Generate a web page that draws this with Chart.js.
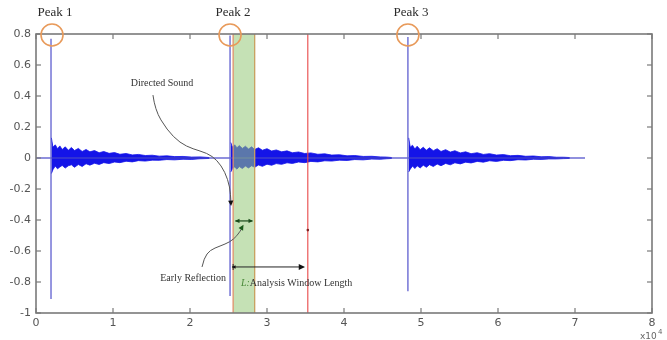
<!DOCTYPE html>
<html><head><meta charset="utf-8">
<script src="https://cdn.jsdelivr.net/npm/chart.js@4/dist/chart.umd.min.js"></script>
<style>html,body{margin:0;padding:0;background:#fff}#wrap{width:667px;height:340px}</style>
</head><body><div id="wrap"><canvas id="c" width="667" height="340"></canvas></div>
<script>
const xTicks = [0,1,2,3,4,5,6,7,8];
const yTicks = [-1,-0.8,-0.6,-0.4,-0.2,0,0.2,0.4,0.6,0.8];
const peakNames = ["Peak 1","Peak 2","Peak 3"];
const peakX = [0.195, 2.52, 4.83];
const peakTop = [0.77, 0.79, 0.78];
const peakBottom = [-0.91, -0.89, -0.86];
const traceEnd = 7.13;

const noise1X  = [0.20,0.22,0.25,0.28,0.31,0.34,0.38,0.42,0.46,0.50,0.55,0.60,0.65,0.70,0.76,0.82,0.88,0.95,1.02,1.09,1.17,1.25,1.33,1.42,1.51,1.60,1.70,1.80,1.91,2.02,2.13,2.25];
const noise1Up = [0.13,0.07,0.085,0.06,0.078,0.055,0.072,0.05,0.068,0.048,0.062,0.042,0.055,0.04,0.048,0.034,0.042,0.03,0.035,0.024,0.029,0.02,0.023,0.016,0.018,0.012,0.014,0.009,0.01,0.006,0.007,0.003];
const noise1Lo = [-0.10,-0.075,-0.052,-0.07,-0.058,-0.048,-0.065,-0.05,-0.044,-0.06,-0.042,-0.055,-0.037,-0.046,-0.034,-0.042,-0.03,-0.036,-0.026,-0.03,-0.021,-0.025,-0.017,-0.02,-0.014,-0.015,-0.01,-0.012,-0.008,-0.009,-0.005,-0.003];

const noise2X  = [2.53,2.55,2.58,2.61,2.64,2.68,2.72,2.76,2.80,2.84,2.89,2.94,3.00,3.06,3.12,3.19,3.26,3.33,3.41,3.49,3.57,3.66,3.75,3.84,3.94,4.04,4.14,4.25,4.36,4.47,4.55,4.62];
const noise2Up = [0.10,0.07,0.085,0.066,0.08,0.062,0.076,0.058,0.072,0.055,0.066,0.05,0.06,0.045,0.052,0.04,0.046,0.034,0.039,0.029,0.033,0.024,0.027,0.019,0.021,0.014,0.016,0.01,0.011,0.007,0.006,0.003];
const noise2Lo = [-0.09,-0.07,-0.058,-0.072,-0.055,-0.068,-0.052,-0.064,-0.05,-0.06,-0.045,-0.054,-0.04,-0.047,-0.036,-0.041,-0.031,-0.035,-0.026,-0.03,-0.022,-0.025,-0.018,-0.02,-0.014,-0.016,-0.01,-0.012,-0.007,-0.008,-0.005,-0.003];

const noise3X  = [4.84,4.86,4.89,4.92,4.95,4.99,5.03,5.07,5.11,5.16,5.21,5.26,5.32,5.38,5.44,5.51,5.58,5.65,5.73,5.81,5.89,5.98,6.07,6.16,6.26,6.36,6.46,6.56,6.66,6.76,6.85,6.93];
const noise3Up = [0.13,0.07,0.082,0.058,0.076,0.054,0.07,0.05,0.066,0.047,0.06,0.042,0.054,0.038,0.047,0.033,0.04,0.028,0.034,0.023,0.028,0.019,0.022,0.015,0.017,0.011,0.013,0.008,0.009,0.005,0.005,0.003];
const noise3Lo = [-0.09,-0.072,-0.052,-0.068,-0.05,-0.064,-0.046,-0.06,-0.043,-0.055,-0.039,-0.05,-0.035,-0.044,-0.031,-0.038,-0.027,-0.032,-0.022,-0.027,-0.018,-0.022,-0.015,-0.017,-0.011,-0.013,-0.008,-0.009,-0.006,-0.006,-0.004,-0.003];

const earlyStart = 2.56, earlyEnd = 2.84, windowEnd = 3.53;

// annotation geometry (data coordinates)
const directCurveX = [1.519,1.545,1.701,1.870,2.039,2.221,2.351,2.455,2.519,2.532];
const directCurveY = [0.406,0.310,0.181,0.097,0.058,0.032,-0.013,-0.090,-0.187,-0.285];
const earlyCurveX = [2.156,2.182,2.260,2.390,2.519,2.610,2.680];
const earlyCurveY = [-0.703,-0.645,-0.594,-0.568,-0.542,-0.503,-0.450];

// build trace
const trace = [{x:0,y:0}];
peakX.forEach((px,i)=>{ trace.push({x:px,y:0},{x:px,y:peakTop[i]},{x:px,y:peakBottom[i]},{x:px,y:0}); });
trace.push({x:traceEnd,y:0});
const pts = (xs,ys)=>xs.map((x,i)=>({x:x,y:ys[i]}));

const NOISE = '#1414e8';
const noiseSet = (xs,ys,fill)=>({data:pts(xs,ys),borderColor:NOISE,backgroundColor:NOISE,borderWidth:0.8,pointRadius:0,fill:fill,tension:0});

const datasets = [
  {data:trace,borderColor:'rgba(70,70,200,0.8)',borderWidth:1.4,pointRadius:0,fill:false,tension:0},
  noiseSet(noise1X,noise1Up,'+1'), noiseSet(noise1X,noise1Lo,false),
  noiseSet(noise2X,noise2Up,'+1'), noiseSet(noise2X,noise2Lo,false),
  noiseSet(noise3X,noise3Up,'+1'), noiseSet(noise3X,noise3Lo,false)
];

function arrowHead(ctx,x1,y1,x2,y2,size){
  const a=Math.atan2(y2-y1,x2-x1);
  ctx.beginPath();
  ctx.moveTo(x2,y2);
  ctx.lineTo(x2-size*Math.cos(a-0.45),y2-size*Math.sin(a-0.45));
  ctx.lineTo(x2-size*Math.cos(a+0.45),y2-size*Math.sin(a+0.45));
  ctx.closePath(); ctx.fill();
}
function smoothPath(ctx,p){
  ctx.beginPath(); ctx.moveTo(p[0][0],p[0][1]);
  for(let i=1;i<p.length-1;i++){
    const mx=(p[i][0]+p[i+1][0])/2,my=(p[i][1]+p[i+1][1])/2;
    ctx.quadraticCurveTo(p[i][0],p[i][1],mx,my);
  }
  ctx.lineTo(p[p.length-1][0],p[p.length-1][1]); ctx.stroke();
}

const overlay = {
  id:'overlay',
  afterDatasetsDraw(chart){
    const {ctx,chartArea:a,scales:{x,y}}=chart;
    const X=v=>x.getPixelForValue(v), Y=v=>y.getPixelForValue(v);
    ctx.save();
    // green band
    ctx.fillStyle='rgba(150,200,120,0.55)';
    ctx.fillRect(X(earlyStart),a.top,X(earlyEnd)-X(earlyStart),a.bottom-a.top);
    ctx.lineWidth=1.3;
    ctx.strokeStyle='#e0906a';
    ctx.beginPath(); ctx.moveTo(X(earlyStart),a.top); ctx.lineTo(X(earlyStart),a.bottom); ctx.stroke();
    ctx.strokeStyle='#c8a060';
    ctx.beginPath(); ctx.moveTo(X(earlyEnd),a.top); ctx.lineTo(X(earlyEnd),a.bottom); ctx.stroke();
    // red window line
    ctx.strokeStyle='#e84848'; ctx.lineWidth=1.1;
    ctx.beginPath(); ctx.moveTo(X(windowEnd),a.top); ctx.lineTo(X(windowEnd),a.bottom); ctx.stroke();
    ctx.fillStyle='#802020';
    ctx.beginPath(); ctx.arc(X(windowEnd),Y(-0.465),1.3,0,Math.PI*2); ctx.fill();

    // frame
    ctx.strokeStyle='#7a7a7a'; ctx.lineWidth=1.6;
    ctx.strokeRect(a.left,a.top,a.right-a.left,a.bottom-a.top);
    ctx.lineWidth=1.2;
    xTicks.forEach(v=>{const px=X(v);
      ctx.beginPath(); ctx.moveTo(px,a.bottom); ctx.lineTo(px,a.bottom-5); ctx.stroke();
      ctx.beginPath(); ctx.moveTo(px,a.top); ctx.lineTo(px,a.top+5); ctx.stroke();});
    yTicks.forEach(v=>{const py=Y(v);
      ctx.beginPath(); ctx.moveTo(a.left,py); ctx.lineTo(a.left+5,py); ctx.stroke();
      ctx.beginPath(); ctx.moveTo(a.right,py); ctx.lineTo(a.right-5,py); ctx.stroke();});

    // peak circles and labels
    ctx.strokeStyle='#e89a5a'; ctx.lineWidth=1.6;
    ctx.fillStyle='#2a2a2a'; ctx.font='13px "Liberation Serif"'; ctx.textAlign='center'; ctx.textBaseline='middle';
    peakX.forEach((px,i)=>{
      const cx=X(px)+(i===0?1:0), cy=Y(0.8)+1;
      ctx.beginPath(); ctx.arc(cx,cy,11,0,Math.PI*2); ctx.stroke();
      ctx.fillText(peakNames[i],cx+3,cy-22);
    });

    // Directed sound
    ctx.strokeStyle='#555'; ctx.fillStyle='#111'; ctx.lineWidth=1;
    const dp=directCurveX.map((v,i)=>[X(v),Y(directCurveY[i])]);
    smoothPath(ctx,dp);
    arrowHead(ctx,dp[dp.length-2][0],dp[dp.length-2][1],X(2.533),Y(-0.31),6);
    ctx.fillStyle='#333'; ctx.font='10px "Liberation Serif"';
    ctx.fillText('Directed Sound',X(1.636),Y(0.484));

    // Early reflection
    const ep=earlyCurveX.map((v,i)=>[X(v),Y(earlyCurveY[i])]);
    ctx.strokeStyle='#555';
    smoothPath(ctx,ep);
    ctx.fillStyle='#1a5a1a';
    arrowHead(ctx,ep[ep.length-2][0],ep[ep.length-2][1],X(2.695),Y(-0.43),6);
    ctx.fillStyle='#333'; ctx.textAlign='right';
    ctx.fillText('Early Reflection',X(2.468),Y(-0.774));

    // double arrow in green band
    ctx.strokeStyle='#1a4a1a'; ctx.fillStyle='#1a4a1a'; ctx.lineWidth=1.2;
    const dy=Y(-0.406);
    ctx.beginPath(); ctx.moveTo(X(2.59),dy); ctx.lineTo(X(2.81),dy); ctx.stroke();
    arrowHead(ctx,X(2.70),dy,X(2.584),dy,5);
    arrowHead(ctx,X(2.70),dy,X(2.818),dy,5);

    // L arrow
    ctx.strokeStyle='#222'; ctx.fillStyle='#111'; ctx.lineWidth=1;
    const ly=Y(-0.703);
    ctx.beginPath(); ctx.moveTo(X(2.545),ly); ctx.lineTo(X(3.47),ly); ctx.stroke();
    arrowHead(ctx,X(3.3),ly,X(3.494),ly,7);
    ctx.beginPath(); ctx.moveTo(X(2.56),ly-3); ctx.lineTo(X(2.56),ly+3); ctx.stroke();
    arrowHead(ctx,X(2.6),ly,X(2.545),ly,4);

    ctx.textAlign='left';
    ctx.font='italic 10px "Liberation Serif"'; ctx.fillStyle='#4a8a3a';
    const tx=X(2.662), ty=Y(-0.806);
    ctx.fillText('L:',tx,ty);
    const w=ctx.measureText('L:').width;
    ctx.font='10px "Liberation Serif"'; ctx.fillStyle='#333';
    ctx.fillText('Analysis Window Length',tx+w,ty);

    // exponent
    ctx.fillStyle='#666'; ctx.font='9px "DejaVu Sans"'; ctx.textAlign='left';
    ctx.fillText('x10',a.right-12,a.bottom+24);
    ctx.font='7px "DejaVu Sans"';
    ctx.fillText('4',a.right+6,a.bottom+19);
    ctx.restore();
  }
};

new Chart(document.getElementById('c'),{
  type:'line',
  data:{datasets:datasets},
  plugins:[overlay],
  options:{
    responsive:false, animation:false, parsing:true,
    layout:{padding:{top:34,right:15,left:0,bottom:0}},
    plugins:{legend:{display:false},tooltip:{enabled:false}},
    scales:{
      x:{type:'linear',min:0,max:8,
        afterBuildTicks:s=>{s.ticks=xTicks.map(v=>({value:v}));},
        afterFit:s=>{s.height=27;},
        grid:{display:false,drawTicks:false},border:{display:false},
        ticks:{padding:4,color:'#555',font:{family:'"DejaVu Sans"',size:11},callback:v=>String(v)}},
      y:{type:'linear',min:-1,max:0.8,
        afterBuildTicks:s=>{s.ticks=yTicks.map(v=>({value:v}));},
        afterFit:s=>{s.width=36;},
        grid:{display:false,drawTicks:false},border:{display:false},
        ticks:{padding:5,color:'#555',font:{family:'"DejaVu Sans"',size:11},callback:v=>String(Math.round(v*10)/10)}}
    }
  }
});
</script></body></html>
